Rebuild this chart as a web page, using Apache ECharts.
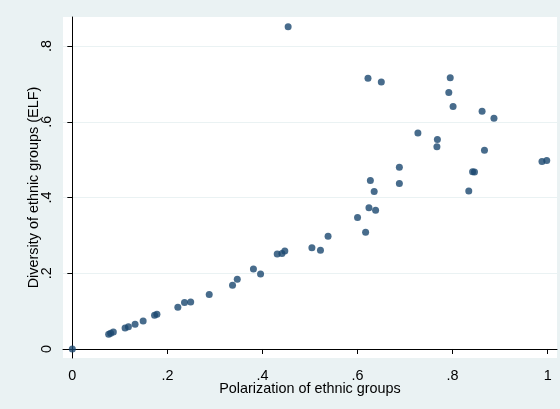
<!DOCTYPE html>
<html>
<head>
<meta charset="utf-8">
<script src="https://cdn.jsdelivr.net/npm/echarts@6/dist/echarts.min.js"></script>
<style>
html,body{margin:0;padding:0;background:#EAF2F3;}
#chart{width:560px;height:409px;}
</style>
</head>
<body>
<div id="chart"></div>
<script>
var polarization = [0, 0.0765, 0.0807, 0.0863, 0.111, 0.118, 0.132, 0.149, 0.173, 0.178,
  0.222, 0.236, 0.249, 0.288, 0.337, 0.347, 0.381, 0.396, 0.431, 0.441,
  0.447, 0.504, 0.522, 0.538, 0.600, 0.617, 0.624, 0.638, 0.627, 0.635,
  0.688, 0.688, 0.454, 0.622, 0.650, 0.795, 0.792, 0.801, 0.862, 0.887,
  0.727, 0.768, 0.767, 0.867, 0.988, 0.998, 0.842, 0.846, 0.834];
var diversity = [0, 0.0388, 0.0414, 0.0449, 0.0554, 0.059, 0.065, 0.074, 0.089, 0.092,
  0.110, 0.123, 0.124, 0.144, 0.168, 0.184, 0.211, 0.198, 0.251, 0.252,
  0.259, 0.267, 0.261, 0.298, 0.347, 0.308, 0.373, 0.366, 0.445, 0.416,
  0.480, 0.437, 0.851, 0.715, 0.705, 0.716, 0.677, 0.640, 0.628, 0.609,
  0.570, 0.553, 0.534, 0.525, 0.495, 0.498, 0.468, 0.467, 0.417];
var xTicks = [0, 0.2, 0.4, 0.6, 0.8, 1];
var yTicks = [0, 0.2, 0.4, 0.6, 0.8];
var xName = 'Polarization of ethnic groups';
var yName = 'Diversity of ethnic groups (ELF)';

var points = polarization.map(function (x, i) { return [x, diversity[i]]; });
function fmt(v) {
  if (Math.abs(v) < 1e-9) return '0';
  if (Math.abs(v - 1) < 1e-9) return '1';
  return '.' + Math.round(v * 10);
}
var font = '"Liberation Sans", Arial, sans-serif';
var chart = echarts.init(document.getElementById('chart'));
chart.setOption({
  backgroundColor: '#EAF2F3',
  animation: false,
  grid: {
    left: 63, right: 3, top: 17, bottom: 51,
    show: true, backgroundColor: '#FFFFFF', borderWidth: 0
  },
  xAxis: {
    type: 'value',
    min: -0.0196, max: 1.0196,
    name: xName, nameLocation: 'middle', nameGap: 24, nameMoveOverlap: false,
    nameTextStyle: { fontFamily: font, fontSize: 14.4, color: '#000' },
    axisLine: { show: true, lineStyle: { color: '#000', width: 1 } },
    axisTick: { show: true, length: 5, lineStyle: { color: '#000' }, customValues: xTicks },
    axisLabel: { customValues: xTicks, formatter: fmt, margin: 11, fontFamily: font, fontSize: 14.4, color: '#000' },
    splitLine: { show: false }
  },
  yAxis: {
    type: 'value',
    min: -0.0238, max: 0.8766,
    name: yName, nameLocation: 'middle', nameGap: 22, nameMoveOverlap: false,
    nameTextStyle: { fontFamily: font, fontSize: 14.4, color: '#000' },
    axisLine: { show: true, lineStyle: { color: '#000', width: 1 } },
    axisTick: { show: true, length: 5, lineStyle: { color: '#000' }, customValues: yTicks },
    axisLabel: { customValues: yTicks, formatter: fmt, rotate: 90, margin: 9, fontFamily: font, fontSize: 14.4, color: '#000' },
    splitLine: { show: true, lineStyle: { color: '#EAF2F3', width: 1 } }
  },
  series: [{
    type: 'scatter',
    data: points,
    symbol: 'circle',
    symbolSize: 7,
    itemStyle: { color: '#1A476F' }
  }]
});
</script>
</body>
</html>
